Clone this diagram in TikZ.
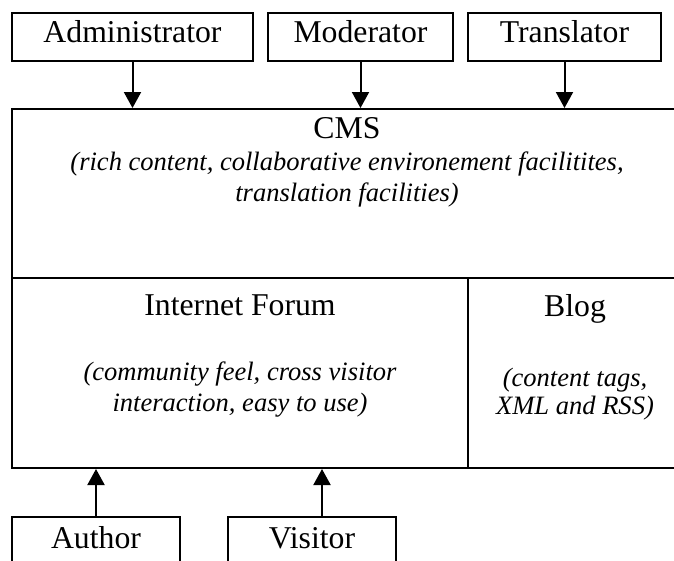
\documentclass[tikz,border=0pt]{standalone}
\usepackage{fontspec}
\setmainfont{Liberation Serif}
\usetikzlibrary{arrows.meta}
\begin{document}
\begin{tikzpicture}[x=0.75pt,y=-0.75pt,
  frame/.style={draw, line width=1.5pt, inner sep=0pt, rectangle},
  title/.style={inner sep=0pt, anchor=base, font=\fontsize{23.8pt}{28pt}\selectfont},
  note/.style={inner sep=0pt, anchor=base, font=\fontsize{19.9pt}{24pt}\selectfont\itshape},
  feed/.style={line width=1.5pt, -{Triangle[length=12pt, width=12.75pt]}}]
\useasboundingbox (0,0) rectangle (674,560);
\fill[white] (0,0) rectangle (674,560);
\clip (0,0) rectangle (674,560);

% roles on top
\node[frame, minimum width=180.75pt, minimum height=36.2pt] (admin) at (132.5,36.85) {};
\node[frame, minimum width=138.75pt, minimum height=36.2pt] (moder) at (360.5,36.85) {};
\node[frame, minimum width=144.75pt, minimum height=36.2pt] (trans) at (564.5,36.85) {};
\node[title] (adminlbl) at (132.5,43) {Administrator};
\node[title] (moderlbl) at (360.5,43) {Moderator};
\node[title] (translbl) at (564.5,43) {Translator};

% platform blocks
\node[frame, minimum width=502.5pt, minimum height=126.75pt] (cms) at (347,193.5) {};
\node[frame, minimum width=342pt, minimum height=142.5pt] (forum) at (240,373) {};
\node[frame, minimum width=160.5pt, minimum height=142.5pt] (blog) at (575,373) {};

\node[title] (cmslbl) at (347,138) {CMS};
\node[note] (cmsa) at (347,170) {(rich content, collaborative environement facilitites,};
\node[note] (cmsb) at (347,201) {translation facilities)};

\node[title] (forumlbl) at (240,315) {Internet Forum};
\node[note] (foruma) at (240,380) {(community feel, cross visitor};
\node[note] (forumb) at (240,411) {interaction, easy to use)};

\node[title] (bloglbl) at (575,316) {Blog};
\node[note] (bloga) at (575,386) {(content tags,};
\node[note] (blogb) at (575,414) {XML and RSS)};

% roles below
\node[frame, minimum width=126pt, minimum height=54.75pt] (author) at (96,553.5) {};
\node[frame, minimum width=126pt, minimum height=54.75pt] (visitor) at (312,553.5) {};
\node[title] (authorlbl) at (96,548) {Author};
\node[title] (visitorlbl) at (312,548) {Visitor};

% connectors
\draw[feed] (admin.south) -- (admin.south |- cms.north);
\draw[feed] (moder.south) -- (moder.south |- cms.north);
\draw[feed] (trans.south) -- (trans.south |- cms.north);
\draw[feed] (author.north) -- (author.north |- forum.south);
\draw[feed] ([xshift=7.5pt]visitor.north) -- ([xshift=7.5pt]visitor.north |- forum.south);
\end{tikzpicture}
\end{document}
